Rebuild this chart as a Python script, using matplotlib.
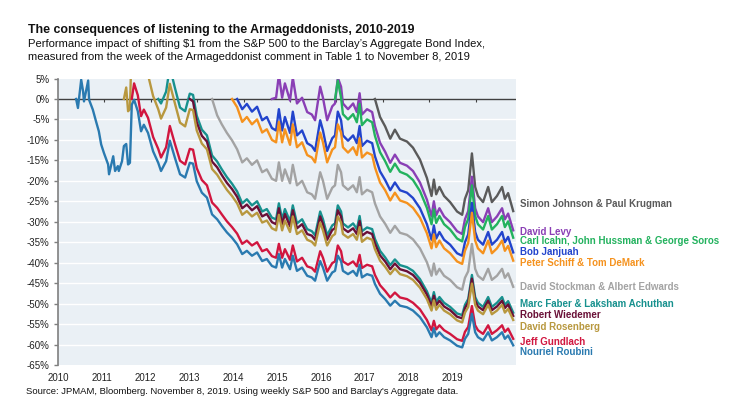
import numpy as np
import matplotlib.pyplot as plt

plt.rcParams['font.family'] = ['Liberation Sans', 'DejaVu Sans']

# weekly-ish sample dates (decimal years)
dates = [2010.39, 2010.43, 2010.50, 2010.54, 2010.56, 2010.65, 2010.67, 2010.75, 2010.82, 2010.88,
         2010.93, 2010.99, 2011.08, 2011.10, 2011.19, 2011.23, 2011.29, 2011.31, 2011.38, 2011.42,
         2011.47, 2011.51, 2011.55, 2011.59, 2011.64, 2011.72, 2011.79, 2011.85, 2011.94, 2012.05,
         2012.16, 2012.22, 2012.33, 2012.41, 2012.52, 2012.63, 2012.74, 2012.84, 2012.91, 2012.99,
         2013.10, 2013.21, 2013.32, 2013.43, 2013.53, 2013.64, 2013.75, 2013.86, 2013.97, 2014.07,
         2014.18, 2014.29, 2014.40, 2014.50, 2014.61, 2014.70, 2014.76, 2014.83, 2014.89, 2015.00,
         2015.06, 2015.15, 2015.26, 2015.37, 2015.47, 2015.54, 2015.65, 2015.71, 2015.80, 2015.91,
         2015.97, 2016.03, 2016.10, 2016.14, 2016.25, 2016.36, 2016.44, 2016.50, 2016.55, 2016.66,
         2016.77, 2016.83, 2016.94, 2017.05, 2017.16, 2017.26, 2017.37, 2017.52, 2017.65, 2017.80,
         2017.95, 2018.05, 2018.10, 2018.15, 2018.22, 2018.32, 2018.45, 2018.60, 2018.71, 2018.77,
         2018.84, 2018.92, 2018.99, 2019.05, 2019.16, 2019.27, 2019.35, 2019.46, 2019.57, 2019.63,
         2019.70, 2019.81]

# each series runs from its comment date to the last date (values in %)
roubini = [0.0, -2.2, 4.7, 1.9, -0.6, 4.5, -0.2, -2.6, -5.5, -7.9,
           -11.1, -13.2, -16.0, -18.4, -14.0, -17.6, -16.4, -17.6, -15.2, -11.5,
           -11.0, -16.0, -15.6, -1.4, -0.2, -3.0, -7.9, -6.3, -8.3, -12.8,
           -15.6, -17.6, -15.2, -10.2, -14.4, -18.4, -19.2, -15.6, -15.8, -20.1,
           -22.9, -24.1, -28.2, -29.4, -31.0, -32.6, -33.9, -35.5, -37.9, -37.1,
           -38.3, -37.5, -39.6, -39.1, -40.8, -41.2, -37.9, -41.2, -39.1, -41.6,
           -38.3, -42.0, -41.2, -43.2, -43.6, -44.4, -39.6, -41.2, -44.4, -42.4,
           -42.0, -38.3, -39.6, -42.0, -42.8, -42.0, -43.2, -40.5, -43.6, -42.8,
           -43.2, -45.2, -47.6, -48.9, -50.5, -49.3, -50.5, -50.9, -51.7, -53.3,
           -55.8, -58.2, -56.0, -58.0, -57.0, -58.2, -59.0, -60.3, -60.7, -58.6,
           -57.4, -52.5, -57.0, -58.2, -59.0, -57.0, -59.0, -58.2, -57.0, -58.6,
           -57.8, -60.2]

gundlach = [0.0, 3.8, 0.9, -4.2, -2.6, -4.6, -9.3,
            -12.2, -14.3, -11.8, -6.6, -11.0, -15.1, -16.0, -12.2, -12.4, -16.9,
            -19.8, -21.1, -25.3, -26.6, -28.2, -29.9, -31.3, -32.9, -35.4, -34.6,
            -35.8, -35.0, -37.2, -36.7, -38.4, -38.8, -35.4, -38.8, -36.7, -39.3,
            -35.8, -39.7, -38.8, -40.9, -41.3, -42.2, -37.2, -38.8, -42.2, -40.1,
            -39.7, -35.8, -37.2, -39.7, -40.5, -39.7, -40.9, -38.1, -41.3, -40.5,
            -40.9, -43.0, -45.5, -46.9, -48.5, -47.3, -48.5, -48.9, -49.8, -51.4,
            -54.0, -56.5, -54.2, -56.3, -55.3, -56.5, -57.4, -58.7, -59.1, -56.9,
            -55.7, -50.6, -55.3, -56.5, -57.4, -55.3, -57.4, -56.5, -55.3, -56.9,
            -56.1, -58.6]

rosenberg = [0.0, 2.8, -3.0, -2.5, 13.9, 15.3, 12.0, 6.4, 8.2, 5.9, 0.7,
             -2.5, -4.8, -2.1, 3.7, -1.1, -5.8, -6.7, -2.5, -2.7, -7.7,
             -10.9, -12.3, -17.1, -18.5, -20.3, -22.2, -23.7, -25.5, -28.3, -27.4,
             -28.7, -27.8, -30.2, -29.7, -31.6, -32.1, -28.3, -32.1, -29.7, -32.5,
             -28.7, -33.0, -32.1, -34.4, -34.9, -35.8, -30.2, -32.1, -35.8, -33.5,
             -33.0, -28.7, -30.2, -33.0, -33.9, -33.0, -34.4, -31.3, -34.9, -33.9,
             -34.4, -36.7, -39.5, -41.0, -42.8, -41.4, -42.8, -43.3, -44.2, -46.1,
             -48.9, -51.7, -49.2, -51.5, -50.3, -51.7, -52.6, -54.1, -54.6, -52.2,
             -50.8, -45.1, -50.3, -51.7, -52.6, -50.3, -52.6, -51.7, -50.3, -52.2,
             -51.3, -54.0]

faber = [0.0, -1.1, 1.8, 7.8, 2.7, -2.1, -3.0, 1.3, 1.0, -4.1,
         -7.5, -8.9, -13.8, -15.3, -17.2, -19.1, -20.7, -22.6, -25.5, -24.5,
         -26.0, -25.0, -27.5, -26.9, -29.0, -29.4, -25.5, -29.4, -26.9, -29.9,
         -26.0, -30.4, -29.4, -31.8, -32.3, -33.3, -27.5, -29.4, -33.3, -30.9,
         -30.4, -26.0, -27.5, -30.4, -31.4, -30.4, -31.8, -28.6, -32.3, -31.4,
         -31.8, -34.2, -37.1, -38.7, -40.6, -39.2, -40.6, -41.1, -42.0, -44.0,
         -47.0, -49.8, -47.2, -49.6, -48.4, -49.8, -50.8, -52.4, -52.8, -50.3,
         -48.9, -43.0, -48.4, -49.8, -50.8, -48.4, -50.8, -49.8, -48.4, -50.3,
         -49.4, -52.2]

wiedemer = [0.0, -0.6, -5.7,
            -9.0, -10.4, -15.3, -16.7, -18.6, -20.5, -22.0, -23.9, -26.7, -25.8,
            -27.2, -26.2, -28.7, -28.1, -30.1, -30.6, -26.7, -30.6, -28.1, -31.1,
            -27.2, -31.6, -30.6, -33.0, -33.4, -34.4, -28.7, -30.6, -34.4, -32.0,
            -31.6, -27.2, -28.7, -31.6, -32.5, -31.6, -33.0, -29.8, -33.4, -32.5,
            -33.0, -35.3, -38.2, -39.7, -41.6, -40.2, -41.6, -42.1, -43.0, -44.9,
            -47.8, -50.7, -48.1, -50.4, -49.3, -50.7, -51.6, -53.2, -53.6, -51.1,
            -49.7, -43.9, -49.3, -50.7, -51.6, -49.3, -51.6, -50.7, -49.3, -51.1,
            -50.2, -53.0]

stockman = [0.0, -4.0, -6.2, -8.3, -10.1, -12.3, -15.5, -14.5,
            -16.1, -15.0, -17.9, -17.2, -19.5, -20.0, -15.5, -20.0, -17.2, -20.6,
            -16.1, -21.1, -20.0, -22.8, -23.3, -24.4, -17.9, -20.0, -24.4, -21.7,
            -21.1, -16.1, -17.9, -21.1, -22.2, -21.1, -22.8, -19.1, -23.3, -22.2,
            -22.8, -25.5, -28.7, -30.5, -32.7, -31.0, -32.7, -33.2, -34.3, -36.5,
            -39.9, -43.2, -40.2, -42.9, -41.5, -43.2, -44.2, -46.0, -46.6, -43.7,
            -42.1, -35.4, -41.5, -43.2, -44.2, -41.5, -44.2, -43.2, -41.5, -43.7,
            -42.6, -45.9]

schiff = [0.0, -2.0, -5.6, -4.4,
          -6.2, -5.0, -8.2, -7.4, -10.0, -10.6, -5.6, -10.6, -7.4, -11.2,
          -6.2, -11.8, -10.6, -13.7, -14.3, -15.5, -8.2, -10.6, -15.5, -12.4,
          -11.8, -6.2, -8.2, -11.8, -13.1, -11.8, -13.7, -9.6, -14.3, -13.1,
          -13.7, -16.7, -20.4, -22.3, -24.8, -22.9, -24.8, -25.4, -26.6, -29.0,
          -32.8, -36.5, -33.1, -36.2, -34.6, -36.5, -37.7, -39.7, -40.3, -37.1,
          -35.2, -27.8, -34.6, -36.5, -37.7, -34.6, -37.7, -36.5, -34.6, -37.1,
          -35.9, -39.5]

janjuah = [0.0, -2.5, -1.2,
           -3.1, -1.9, -5.2, -4.4, -7.1, -7.7, -2.5, -7.7, -4.4, -8.3,
           -3.1, -8.9, -7.7, -10.8, -11.5, -12.7, -5.2, -7.7, -12.7, -9.6,
           -8.9, -3.1, -5.2, -8.9, -10.2, -8.9, -10.8, -6.6, -11.5, -10.2,
           -10.8, -14.0, -17.7, -19.8, -22.3, -20.4, -22.3, -22.9, -24.2, -26.7,
           -30.6, -34.4, -30.9, -34.1, -32.5, -34.4, -35.6, -37.7, -38.3, -35.0,
           -33.1, -25.4, -32.5, -34.4, -35.6, -32.5, -35.6, -34.4, -32.5, -35.0,
           -33.7, -37.5]

levy = [0.0, 0.3, 5.9, 0.3, 3.8, -0.4,
        5.2, -1.1, 0.3, -3.2, -3.8, -5.2, 3.0, 0.3, -5.2, -1.8,
        -1.1, 5.2, 3.0, -1.1, -2.5, -1.1, -3.2, 1.4, -3.8, -2.5,
        -3.2, -6.6, -10.7, -12.9, -15.6, -13.6, -15.6, -16.3, -17.6, -20.4,
        -24.6, -28.7, -25.0, -28.4, -26.7, -28.7, -30.1, -32.3, -33.0, -29.4,
        -27.4, -19.0, -26.7, -28.7, -30.1, -26.7, -30.1, -28.7, -26.7, -29.4,
        -28.0, -32.1]

icahn = [0.0, 4.5, 0.3, -3.7, -5.0, -3.7, -5.7, -1.2, -6.4, -5.0,
         -5.7, -9.0, -13.0, -15.2, -17.8, -15.8, -17.8, -18.5, -19.8, -22.5,
         -26.6, -30.6, -27.0, -30.3, -28.6, -30.6, -31.9, -34.1, -34.8, -31.3,
         -29.3, -21.1, -28.6, -30.6, -31.9, -28.6, -31.9, -30.6, -28.6, -31.3,
         -29.9, -33.9]

johnson = [0.0, -4.4, -6.7, -9.7, -7.5, -9.7, -10.4, -11.9, -14.8,
           -19.3, -23.7, -19.7, -23.3, -21.5, -23.7, -25.2, -27.5, -28.3, -24.4,
           -22.3, -13.3, -21.5, -23.7, -25.2, -21.5, -25.2, -23.7, -21.5, -24.4,
           -23.0, -27.4]

names = ['Simon Johnson & Paul Krugman', 'David Levy', 'Carl Icahn, John Hussman & George Soros',
         'Bob Janjuah', 'Peter Schiff & Tom DeMark', 'David Stockman & Albert Edwards',
         'Marc Faber & Laksham Achuthan', 'Robert Wiedemer', 'David Rosenberg',
         'Jeff Gundlach', 'Nouriel Roubini']
series = [johnson, levy, icahn, janjuah, schiff, stockman, faber, wiedemer, rosenberg, gundlach, roubini]
colors = ['#5a5a5a', '#8a3fb5', '#23b25e', '#2244cc', '#f5921e', '#a3a3a3',
          '#17918e', '#6a1037', '#b8983f', '#d1163f', '#2a7ab0']
label_y = [-25.7, -32.5, -34.7, -37.4, -40.1, -45.9, -50.1, -52.8, -55.7, -59.4, -61.8]
years = ['2010', '2011', '2012', '2013', '2014', '2015', '2016', '2017', '2018', '2019']

fig = plt.figure(figsize=(7.43, 4.08), dpi=100)
ax = fig.add_axes([58 / 743, 1 - 365 / 408, (516 - 58) / 743, (365 - 78.5) / 408])
ax.set_facecolor('#eaf0f5')

for v in range(-60, 5, 5):
    if v != 0:
        ax.axhline(v, color='white', lw=1.0, zorder=0.5)
ax.axhline(0, color='#404040', lw=1.0, zorder=1)
ax.vlines(range(2011, 2020), -0.8, 0, color='#404040', lw=0.8, zorder=1)

for vals, c in zip(series, colors):
    x = dates[len(dates) - len(vals):]
    ax.plot(x, vals, color=c, lw=1.7, zorder=2)

for name, c, y in zip(names, colors, label_y):
    ax.text(2019.95, y, name, color=c, fontsize=7, fontweight='bold',
            va='center', ha='left', clip_on=False)

ax.set_xlim(2010.0, 2019.87)
ax.set_ylim(-65, 5)
yt = list(range(-65, 10, 5))
ax.set_yticks(yt)
ax.set_yticklabels([f'{v}%' for v in yt], fontsize=7, color='#222222')
ax.set_xticks(np.linspace(2010, 2018.5, 10))
ax.set_xticklabels(years, fontsize=7, color='#222222')
ax.tick_params(axis='x', length=0, pad=6)
ax.tick_params(axis='y', length=3, width=1, color='#7f7f7f', pad=3)
for s in ['top', 'right', 'bottom']:
    ax.spines[s].set_visible(False)
ax.spines['left'].set_color('#7f7f7f')
ax.spines['left'].set_linewidth(1.2)

fig.text(28 / 743, 1 - 30 / 408, 'The consequences of listening to the Armageddonists, 2010-2019',
         fontsize=8.9, fontweight='bold', va='center', color='#111111')
fig.text(28 / 743, 1 - 44 / 408,
         'Performance impact of shifting \\$1 from the S&P 500 to the Barclay\u2019s Aggregate Bond Index,',
         fontsize=8.1, va='center', color='#111111')
fig.text(28 / 743, 1 - 57 / 408,
         'measured from the week of the Armageddonist comment in Table 1 to November 8, 2019',
         fontsize=8.1, va='center', color='#111111')
fig.text(26 / 743, 1 - 392 / 408,
         "Source: JPMAM, Bloomberg. November 8, 2019. Using weekly S&P 500 and Barclay's Aggregate data.",
         fontsize=6.8, va='center', color='#111111')

fig.savefig('out.png', dpi=100)
